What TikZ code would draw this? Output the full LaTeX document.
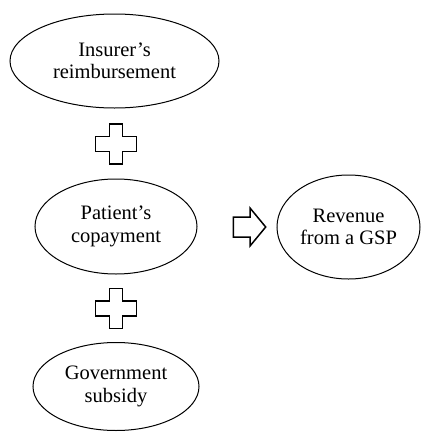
\documentclass[tikz,border=0pt]{standalone}
\usepackage{fontspec}
\setmainfont{Liberation Serif}
\usetikzlibrary{shapes.geometric}

\begin{document}
\begin{tikzpicture}[
  x = 1pt, y = -1pt,
  every node/.style = {font = \fontsize{20.5}{22.5}\selectfont, align = center},
  bubble/.style = {ellipse, draw, line width = 1pt, inner sep = 0pt},
  symbol/.style = {draw, line width = 1.5pt, line join = miter},
  plussign/.pic = {
    \draw[symbol] (-6.7,-20) -- (6.7,-20) -- (6.7,-7.5) -- (20.5,-7.5)
      -- (20.5,7.5) -- (6.7,7.5) -- (6.7,20) -- (-6.7,20) -- (-6.7,7.5)
      -- (-20.5,7.5) -- (-20.5,-7.5) -- (-6.7,-7.5) -- cycle;
  },
  fatarrow/.pic = {
    \draw[symbol] (-16.2,-10) -- (0.5,-10) -- (0.5,-19) -- (16.2,0)
      -- (0.5,19) -- (0.5,10) -- (-16.2,10) -- cycle;
  }
]
\useasboundingbox (0,0) rectangle (422,432);

% parcelas
\node[bubble, minimum width = 209, minimum height = 94] (insurer)
  at (114.5,61) {Insurer’s\\reimbursement};
\node[bubble, minimum width = 162, minimum height = 95] (patient)
  at (116,226.5) {Patient’s\\copayment};
\node[bubble, minimum width = 166, minimum height = 88] (subsidy)
  at (116,386.5) {Government\\subsidy};

% resultado
\node[bubble, minimum width = 143, minimum height = 104] (revenue)
  at (348.5,227) {Revenue\\from a GSP};

\pic at (116,144) {plussign};
\pic at (116,308.5) {plussign};
\pic at (249.5,227) {fatarrow};

\end{tikzpicture}
\end{document}
